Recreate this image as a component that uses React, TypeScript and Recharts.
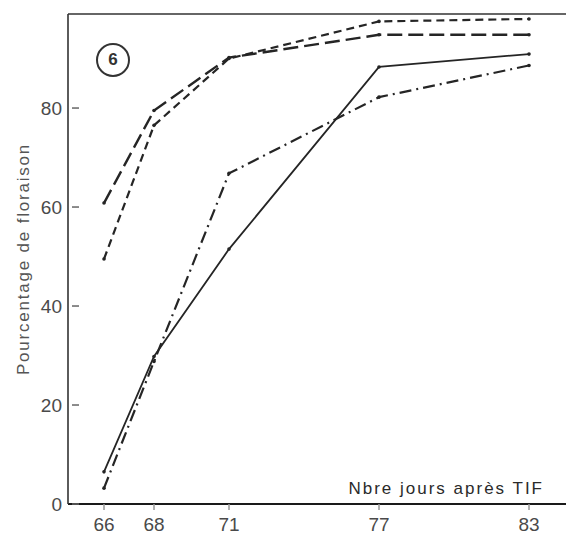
import { LineChart, Line, XAxis, YAxis, ReferenceLine } from 'recharts';

const days = [66, 68, 71, 77, 83];
const shortDash = [49.5, 76.5, 90, 97.5, 98];
const longDash = [60.8, 79.5, 90.2, 94.8, 94.8];
const solid = [6.5, 29.8, 51.5, 88.3, 90.9];
const dashDot = [3.2, 28.8, 66.8, 82.2, 88.6];
const yTicks = [0, 20, 40, 60, 80];

const data = days.map((d, i) => ({
    day: d,
    shortDash: shortDash[i],
    longDash: longDash[i],
    solid: solid[i],
    dashDot: dashDot[i],
}));

const font = '"Liberation Sans", Arial, sans-serif';
const ink = '#252525';

function YTick(props: any) {
    const { x, y, payload } = props;
    return (
        <g>
            <text x={x} y={y} textAnchor="end" dominantBaseline="central" fill="#4a4a4a" fontSize={19} fontFamily={font}>
                {payload.value}
            </text>
            <line x1={x + 10} x2={x + 17} y1={y} y2={y} stroke="#666" strokeWidth={1.5} />
        </g>
    );
}

function YLabel(props: any) {
    const { viewBox } = props;
    const cx = viewBox.x + 23;
    const cy = viewBox.y + viewBox.height / 2;
    return (
        <text x={cx} y={cy} transform={`rotate(-90, ${cx}, ${cy})`} textAnchor="middle" dominantBaseline="central"
            fill="#555" fontSize={17} fontFamily={font} letterSpacing={1.8}>
            Pourcentage de floraison
        </text>
    );
}

function XLabel(props: any) {
    const { viewBox } = props;
    return (
        <text x={viewBox.x + viewBox.width - 22} y={viewBox.y - 10} textAnchor="end" fill="#2a2a2a"
            fontSize={17} fontFamily={font} letterSpacing={2}>
            Nbre jours après TIF
        </text>
    );
}

const dot = { r: 1.8, fill: ink, stroke: 'none' };

export default function App() {
    return (
        <div style={{ position: 'absolute', left: 0, top: 0, width: 566, height: 534, background: '#fff' }}>
            <LineChart width={566} height={534} data={data} margin={{ top: 14, right: 0, left: 0, bottom: 0 }}>
                <XAxis
                    dataKey="day"
                    type="number"
                    domain={[64.56, 84.48]}
                    ticks={days}
                    height={30}
                    tickSize={6}
                    tickMargin={8}
                    axisLine={{ stroke: '#1a1a1a', strokeWidth: 2.2 }}
                    tickLine={{ stroke: '#999', strokeWidth: 1.5 }}
                    tick={{ fill: '#4a4a4a', fontSize: 19, fontFamily: font }}
                    label={<XLabel />}
                />
                <YAxis
                    type="number"
                    domain={[0, 99]}
                    ticks={yTicks}
                    width={68}
                    tickSize={0}
                    tickMargin={6}
                    tickLine={false}
                    axisLine={{ stroke: '#333', strokeWidth: 1.6 }}
                    tick={<YTick />}
                    label={<YLabel />}
                />
                <ReferenceLine y={99} stroke="#666" strokeWidth={2} />
                <Line dataKey="shortDash" stroke={ink} strokeWidth={2.2} strokeDasharray="8 5" dot={dot} isAnimationActive={false} />
                <Line dataKey="longDash" stroke={ink} strokeWidth={2.4} strokeDasharray="15 6" dot={dot} isAnimationActive={false} />
                <Line dataKey="solid" stroke={ink} strokeWidth={1.8} dot={dot} isAnimationActive={false} />
                <Line dataKey="dashDot" stroke={ink} strokeWidth={2.2} strokeDasharray="12 5 2 5" dot={dot} isAnimationActive={false} />
            </LineChart>
            <div style={{
                position: 'absolute', left: 96, top: 43, width: 30, height: 30, borderRadius: '50%',
                border: '2px solid #333', display: 'flex', alignItems: 'center', justifyContent: 'center',
                fontFamily: font, fontWeight: 'bold', fontSize: 17, color: '#333',
            }}>
                6
            </div>
        </div>
    );
}
